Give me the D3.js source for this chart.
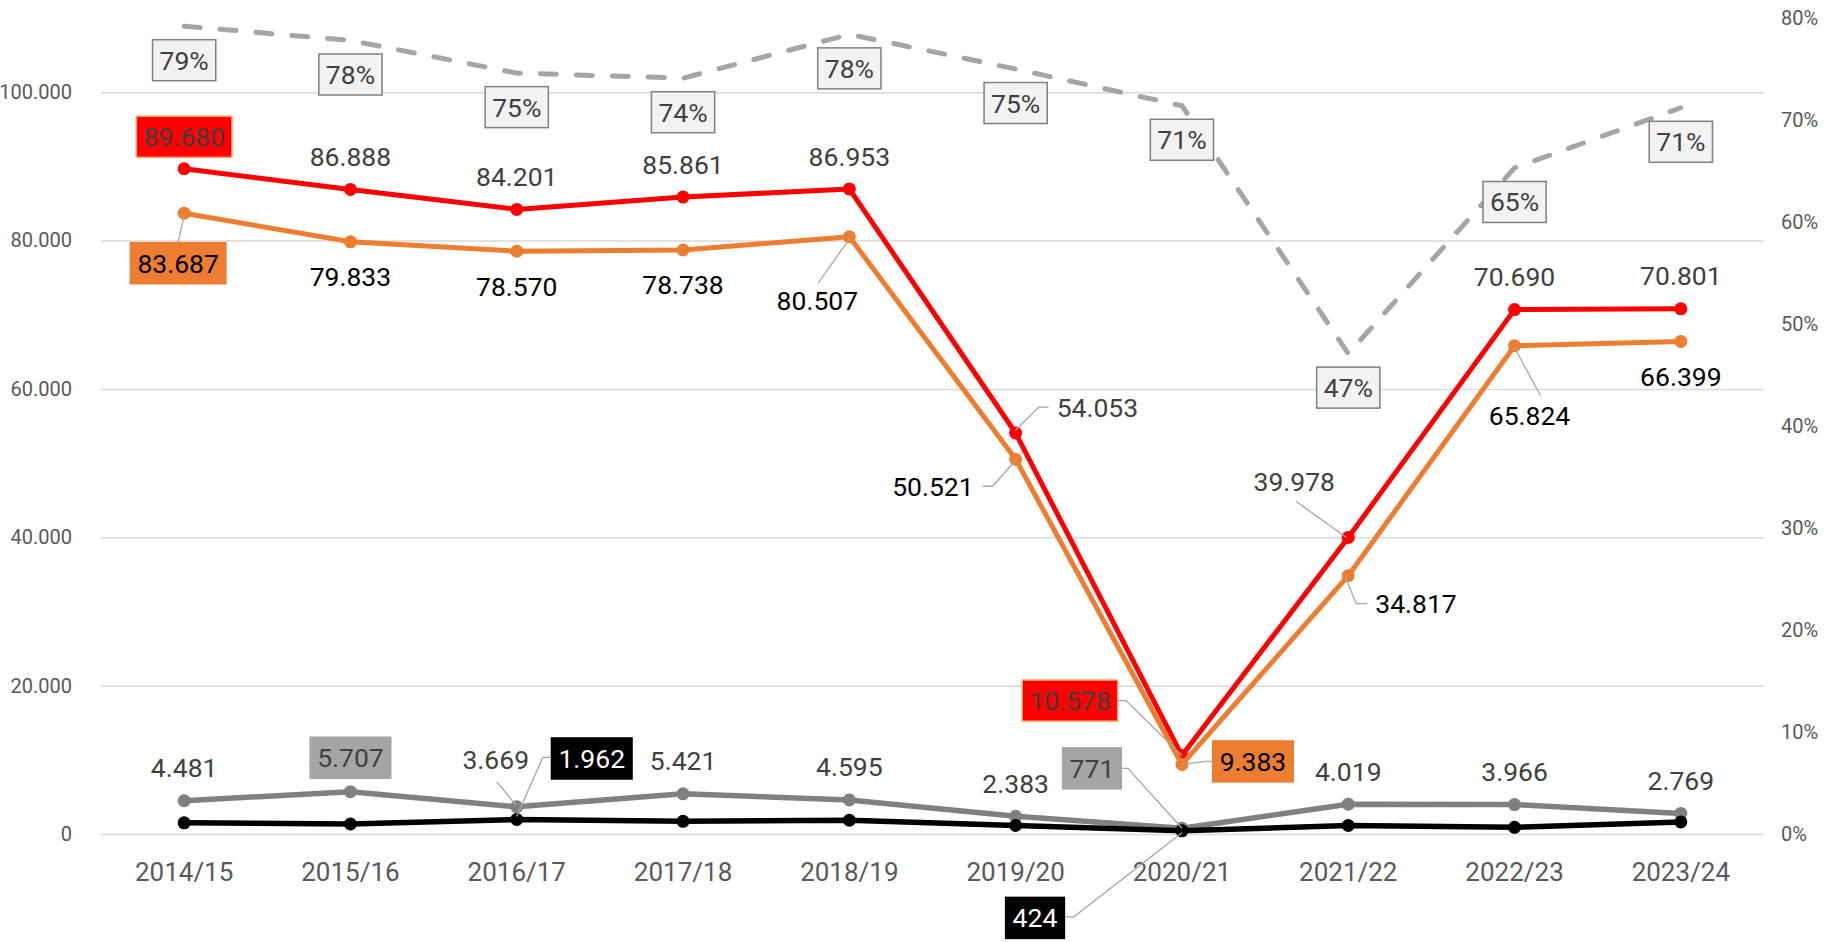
<!DOCTYPE html>
<html>
<head>
<meta charset="utf-8">
<script src="https://cdn.jsdelivr.net/npm/d3@7/dist/d3.min.js"></script>
<style>
  body { margin: 0; background: #fff; }
  svg { display: block; font-family: Roboto, "Noto Sans", sans-serif; }
</style>
</head>
<body>
<div id="chart"></div>
<script>
// data
var seasons = ["2014/15", "2015/16", "2016/17", "2017/18", "2018/19", "2019/20", "2020/21", "2021/22", "2022/23", "2023/24"];
var redValues = [89680, 86888, 84201, 85861, 86953, 54053, 10578, 39978, 70690, 70801];
var orangeValues = [83687, 79833, 78570, 78738, 80507, 50521, 9383, 34817, 65824, 66399];
var greyValues = [4481, 5707, 3669, 5421, 4595, 2383, 771, 4019, 3966, 2769];
var blackValues = [1512, 1348, 1962, 1702, 1851, 1149, 424, 1142, 900, 1633];
var shareValues = [0.792, 0.778, 0.746, 0.741, 0.784, 0.750, 0.714, 0.471, 0.653, 0.712];
var leftTicks = [0, 20000, 40000, 60000, 80000, 100000];
var rightTicks = [0, 0.1, 0.2, 0.3, 0.4, 0.5, 0.6, 0.7, 0.8];

function drawChart() {
    var W = 1837, H = 942;
    var plotLeft = 101, plotRight = 1764, plotTop = 18, plotBottom = 834;

    var loc = d3.formatLocale({decimal: ",", thousands: ".", grouping: [3], currency: ["", ""]});
    var fmtNum = loc.format(",d");
    var fmtPct = d3.format(".0%");

    var svg = d3.select("#chart").append("svg")
        .attr("width", W)
        .attr("height", H);

    var x = d3.scaleBand().domain(seasons).range([plotLeft, plotRight]);
    var xc = function(s) { return x(s) + x.bandwidth() / 2; };
    var yL = d3.scaleLinear().domain([0, 110000]).range([plotBottom, plotTop]);
    var yR = d3.scaleLinear().domain([0, 0.8]).range([plotBottom, plotTop]);

    // gridlines + left axis
    var gLeft = svg.append("g")
        .attr("transform", "translate(" + plotLeft + ",0)")
        .call(d3.axisLeft(yL).tickValues(leftTicks).tickFormat(fmtNum)
            .tickSizeInner(-(plotRight - plotLeft)).tickSizeOuter(0).tickPadding(29));
    gLeft.select(".domain").remove();
    gLeft.selectAll("line").attr("stroke", "#d9d9d9").attr("stroke-width", 1.5);
    gLeft.selectAll("text").attr("fill", "#595959").style("font-size", "20px").style("font-family", "Roboto");

    var gRight = svg.append("g")
        .attr("transform", "translate(" + plotRight + ",0)")
        .call(d3.axisRight(yR).tickValues(rightTicks).tickFormat(fmtPct).tickSize(0).tickPadding(17));
    gRight.select(".domain").remove();
    gRight.selectAll("text").attr("fill", "#595959").style("font-size", "20px").style("font-family", "Roboto");

    var gBottom = svg.append("g")
        .attr("transform", "translate(0," + plotBottom + ")")
        .call(d3.axisBottom(x).tickSize(0));
    gBottom.select(".domain").remove();
    gBottom.selectAll("text")
        .attr("y", 38).attr("dy", "0.35em")
        .attr("fill", "#595959").style("font-size", "26px").style("font-family", "Roboto");

    // lines
    var series = [
        {values: redValues, color: "#ff0000", width: 5},
        {values: orangeValues, color: "#ed7d31", width: 5},
        {values: greyValues, color: "#808080", width: 5.5},
        {values: blackValues, color: "#000000", width: 5.5}
    ];

    series.forEach(function(s) {
        var line = d3.line()
            .x(function(d, i) { return xc(seasons[i]); })
            .y(function(d) { return yL(d); });
        svg.append("path")
            .datum(s.values)
            .attr("d", line)
            .attr("fill", "none")
            .attr("stroke", s.color)
            .attr("stroke-width", s.width)
            .attr("stroke-linejoin", "round");
        svg.append("g").selectAll("circle")
            .data(s.values)
            .enter()
            .append("circle")
            .attr("cx", function(d, i) { return xc(seasons[i]); })
            .attr("cy", function(d) { return yL(d); })
            .attr("r", 6.5)
            .attr("fill", s.color);
    });

    var shareLine = d3.line()
        .x(function(d, i) { return xc(seasons[i]); })
        .y(function(d) { return yR(d); });
    svg.append("path")
        .datum(shareValues)
        .attr("d", shareLine)
        .attr("fill", "none")
        .attr("stroke", "#a5a5a5")
        .attr("stroke-width", 5)
        .attr("stroke-linecap", "round")
        .attr("stroke-dasharray", "16,20");

    // labels: offsets relative to the point
    var labelSets = [
        {values: redValues, y: yL, fmt: fmtNum, color: "#404040", def: {dx: 0, dy: -33},
         over: {
            0: {dy: -32, box: ["#ff0000", "#f4a460"]},
            5: {dx: 41, dy: -26, anchor: "start", leader: [[0, -3], [23, -26], [33, -26]]},
            6: {dx: -112, dy: -55, box: ["#ff0000", "#f4a460"], leader: [[0, 0], [-56, -55], [-66, -55]]},
            7: {dx: -54, dy: -56, leader: [[-2, 0], [-52, -36]]}
         }},
        {values: orangeValues, y: yL, fmt: fmtNum, color: "#000000", def: {dx: 0, dy: 35},
         over: {
            0: {dx: -6, dy: 50, box: ["#ed7d31", "#ed7d31"], leader: [[0, 2], [-6, 29]]},
            4: {dx: -32, dy: 64, leader: [[0, 2], [-31, 46]]},
            5: {dx: -42, dy: 27, anchor: "end", leader: [[0, 1], [-23, 27], [-33, 27]]},
            6: {dx: 71, dy: -3, box: ["#ed7d31", "#ed7d31"], leader: [[0, 0], [23, -3], [31, -3]]},
            7: {dx: 27, dy: 28, anchor: "start", leader: [[-3, 1], [8, 28], [19, 28]]},
            8: {dx: 15, dy: 70, leader: [[0, 2], [26, 50]]}
         }},
        {values: greyValues, y: yL, fmt: fmtNum, color: "#404040", def: {dx: 0, dy: -33},
         over: {
            1: {dy: -34, box: ["#a5a5a5", "#a5a5a5"]},
            2: {dx: -21, dy: -47, leader: [[-1, -2], [-20, -25]]},
            6: {dx: -90, dy: -60, box: ["#a5a5a5", "#a5a5a5"], leader: [[0, 0], [-54, -60], [-64, -60]]}
         }},
        {values: blackValues, y: yL, fmt: fmtNum, color: "#ffffff", def: null,
         over: {
            2: {dx: 75, dy: -61, box: ["#000000", "#000000"], leader: [[0, -3], [26, -62], [36, -62]]},
            6: {dx: -147, dy: 87, box: ["#000000", "#000000"], leader: [[0, 2], [-108, 86], [-117, 86]]}
         }},
        {values: shareValues, y: yR, fmt: fmtPct, color: "#404040", def: {dx: 0, dy: 34, box: ["#f2f2f2", "#7f7f7f"]},
         over: {}}
    ];

    var labelLayer = svg.append("g");
    labelSets.forEach(function(set) {
        set.values.forEach(function(v, i) {
            var o = set.over[i] || set.def;
            if (!o) return;
            var base = set.def || {};
            var dx = o.dx !== undefined ? o.dx : (base.dx || 0);
            var dy = o.dy !== undefined ? o.dy : (base.dy || 0);
            var box = o.box || base.box;
            var px = xc(seasons[i]), py = set.y(v);

            if (o.leader) {
                labelLayer.append("path")
                    .attr("d", d3.line()(o.leader.map(function(p) { return [px + p[0], py + p[1]]; })))
                    .attr("fill", "none")
                    .attr("stroke", "#a6a6a6")
                    .attr("stroke-width", 1.3);
            }
            var g = labelLayer.append("g");
            var t = g.append("text")
                .attr("x", px + dx)
                .attr("y", py + dy)
                .attr("dy", "0.36em")
                .attr("text-anchor", o.anchor || "middle")
                .attr("fill", set.color)
                .style("font-size", "26.5px")
                .text(set.fmt(v));
            if (box) {
                var bb = t.node().getBBox();
                g.insert("rect", "text")
                    .attr("x", bb.x - 7)
                    .attr("y", bb.y - 5)
                    .attr("width", bb.width + 14)
                    .attr("height", bb.height + 10)
                    .attr("fill", box[0])
                    .attr("stroke", box[1])
                    .attr("stroke-width", 1.5);
            }
        });
    });
}

drawChart();
</script>
</body>
</html>
